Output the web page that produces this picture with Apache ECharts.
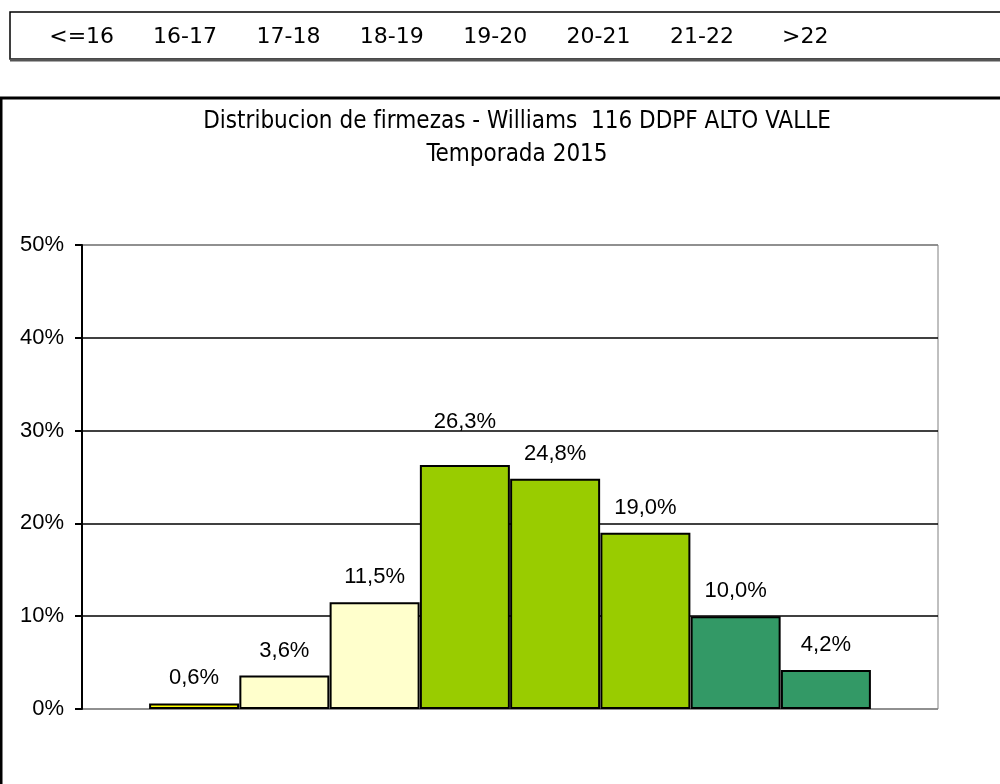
<!DOCTYPE html>
<html lang="es">
<head>
	<meta charset="UTF-8">
	<title>Distribucion de firmezas</title>
	<script src="https://cdn.jsdelivr.net/npm/echarts@6/dist/echarts.min.js" type="text/javascript"></script>
	<style>
		html,body{margin:0;padding:0;background:#fff;}
		#chart{width:1000px;height:784px;}
	</style>
</head>
<body>
<div id="chart"></div>
<script>
	// categorias de firmeza (lbs)
	var categorias = ['<=16','16-17','17-18','18-19','19-20','20-21','21-22','>22'];
	// porcentaje de frutos por rango
	var porcentajes = [0.6, 3.6, 11.5, 26.3, 24.8, 19.0, 10.0, 4.2];
	// ticks del eje y
	var ticksY = [0, 10, 20, 30, 40, 50];

	var coloresBarra = ['#ffff00','#ffffcc','#ffffcc','#99cc00','#99cc00','#99cc00','#339966','#339966'];
	// la etiqueta de 26,3% esta corrida hacia arriba en el original
	var subirEtiqueta = [0,0,0,18,0,0,0,0];
	var fuenteNarrow = "'Liberation Sans Narrow','DejaVu Sans Condensed','Liberation Sans',sans-serif";
	var fuente = "'Liberation Sans',Arial,sans-serif";

	var myChart = echarts.init(document.getElementById('chart'));

	//barras: una por categoria, pegadas
	var datosBarras = [];
	for(var i=0;i<categorias.length;i++){
		datosBarras.push({
			value:[i+0.5, porcentajes[i]],
			itemStyle:{color:coloresBarra[i]},
			label:{offset:[0,-subirEtiqueta[i]]}
		});
	}

	var option = {
		backgroundColor:'#fff',
		animation:false,
		title:{
			text:'Distribucion de firmezas - Williams  116 DDPF ALTO VALLE\nTemporada 2015',
			left:512,
			top:100,
			textAlign:'center',
			textStyle:{
				fontFamily:fuenteNarrow,
				fontSize:24,
				fontWeight:'normal',
				color:'#000',
				lineHeight:33
			}
		},
		graphic:[
			{	// recuadro de categorias
				type:'rect',
				z:-10,
				shape:{x:10,y:12,width:1100,height:47},
				style:{fill:'#fff',stroke:'#000',lineWidth:1.5}
			},
			{
				type:'line',
				z:-9,
				shape:{x1:10,y1:60,x2:1000,y2:60},
				style:{stroke:'#555',lineWidth:3}
			},
			{	// recuadro del grafico
				type:'rect',
				z:-10,
				shape:{x:1,y:98,width:1100,height:800},
				style:{fill:'#fff',stroke:'#000',lineWidth:3}
			}
		],
		grid:[
			{
				left:82,
				right:62,
				top:245,
				bottom:75,
				show:true,
				borderColor:'#808080',
				borderWidth:1
			},
			{
				left:30,
				width:827,
				top:12,
				height:25
			}
		],
		xAxis:[
			{
				type:'value',
				gridIndex:0,
				min:-0.742,
				max:8.742,
				show:false
			},
			{
				type:'category',
				gridIndex:1,
				data:categorias,
				axisLine:{show:false},
				axisTick:{show:false},
				axisLabel:{
					margin:0,
					verticalAlign:'middle',
					fontFamily:"'DejaVu Sans',sans-serif",
					fontSize:22,
					color:'#000'
				}
			}
		],
		yAxis:[
			{
				type:'value',
				gridIndex:0,
				min:ticksY[0],
				max:ticksY[ticksY.length-1],
				interval:ticksY[1]-ticksY[0],
				axisLine:{show:true,onZero:false,lineStyle:{color:'#000',width:2}},
				axisTick:{show:true,length:7,lineStyle:{color:'#000',width:2}},
				axisLabel:{
					formatter:'{value}%',
					margin:18,
					fontFamily:fuente,
					fontSize:22,
					color:'#000'
				},
				splitLine:{
					show:true,
					lineStyle:{
						color:['#808080','#000','#000','#000','#000','#808080'],
						width:1.5
					}
				}
			},
			{
				type:'value',
				gridIndex:1,
				show:false
			}
		],
		series:[
			{
				type:'bar',
				xAxisIndex:0,
				yAxisIndex:0,
				barWidth:90,
				data:datosBarras,
				itemStyle:{borderColor:'#000',borderWidth:2},
				label:{
					show:true,
					position:'top',
					distance:14,
					fontFamily:fuente,
					fontSize:22,
					color:'#000',
					formatter:function(p){
						return p.value[1].toFixed(1).replace('.',',')+'%';
					}
				}
			}
		]
	};
	myChart.setOption(option);
</script>
</body>
</html>
